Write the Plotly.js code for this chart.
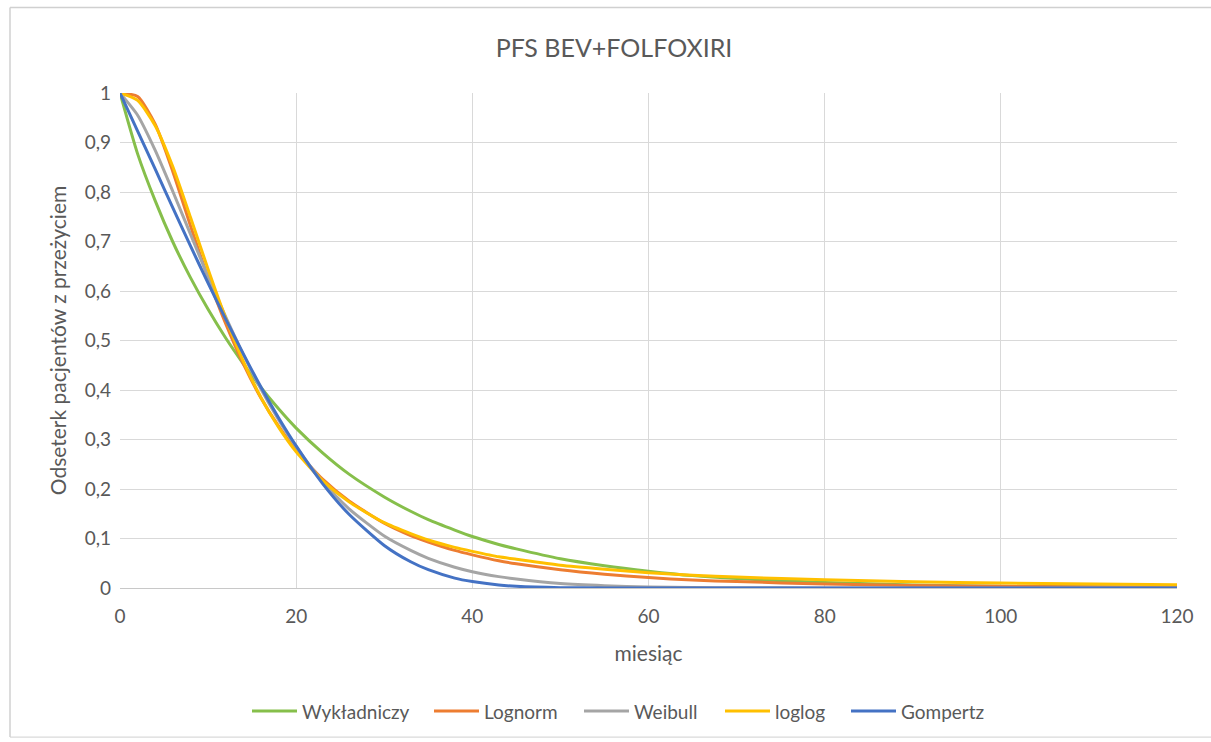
<!DOCTYPE html>
<html>
<head>
<meta charset="utf-8">
<script src="https://cdn.plot.ly/plotly-3.0.1.min.js"></script>
<style>
  html, body { margin: 0; padding: 0; background: #ffffff; }
  #chart { width: 1211px; height: 742px; }
</style>
</head>
<body>
<div id="chart"></div>
<script>
// Months since start of treatment
const months = [0, 2, 4, 6, 8, 10, 12, 14, 16, 18, 20, 23, 26, 30, 33, 35, 38, 40, 43, 45, 50, 55, 60, 65, 70, 80, 90, 100, 120];

// Progression-free survival curves for each fitted distribution
const wykladniczy = [1, 0.877, 0.782, 0.699, 0.627, 0.563, 0.505, 0.453, 0.405, 0.362, 0.323, 0.273, 0.230, 0.184, 0.155, 0.138, 0.117, 0.104, 0.088, 0.079, 0.059, 0.045, 0.034, 0.025, 0.019, 0.011, 0.0062, 0.0035, 0.0011];
const lognorm     = [1, 0.993, 0.937, 0.841, 0.732, 0.627, 0.534, 0.453, 0.384, 0.327, 0.278, 0.220, 0.176, 0.131, 0.106, 0.093, 0.076, 0.067, 0.055, 0.049, 0.037, 0.028, 0.021, 0.016, 0.013, 0.008, 0.0051, 0.0034, 0.0016];
const weibull     = [1, 0.955, 0.884, 0.801, 0.715, 0.629, 0.548, 0.472, 0.402, 0.340, 0.285, 0.215, 0.160, 0.105, 0.076, 0.060, 0.042, 0.033, 0.023, 0.018, 0.009, 0.0046, 0.0022, 0.001, 0.0005, 0.0001, 0, 0, 0];
const loglog      = [1, 0.985, 0.934, 0.851, 0.749, 0.644, 0.545, 0.458, 0.385, 0.325, 0.275, 0.217, 0.174, 0.132, 0.110, 0.097, 0.082, 0.074, 0.063, 0.058, 0.046, 0.038, 0.031, 0.026, 0.022, 0.0165, 0.0127, 0.010, 0.0067];
const gompertz    = [1, 0.923, 0.846, 0.768, 0.691, 0.616, 0.543, 0.473, 0.406, 0.344, 0.287, 0.211, 0.149, 0.086, 0.053, 0.037, 0.020, 0.013, 0.006, 0.0034, 0.0007, 0.0001, 0, 0, 0, 0, 0, 0, 0];

const seriesNames  = ['Wykładniczy', 'Lognorm', 'Weibull', 'loglog', 'Gompertz'];
const seriesValues = [wykladniczy, lognorm, weibull, loglog, gompertz];
const seriesColors = ['#86bf4b', '#ed7d31', '#a5a5a5', '#ffc000', '#4472c4'];

const FONT = 'Lato, "Open Sans", sans-serif';
const GREY_TEXT = '#595959';

// Plot area spans 120..1177 px horizontally and 93..591 px vertically
const L = 120, R = 34, T = 93, B = 151;
const plotW = 1211 - L - R, plotH = 742 - T - B;
const px = v => (v - L) / plotW;
const py = v => (742 - B - v) / plotH;

// Left edge (px) of each legend entry along the bottom row
const legendStarts = [247, 429, 579, 720, 846];
const legendIds = ['legend', 'legend2', 'legend3', 'legend4', 'legend5'];

const traces = seriesNames.map((name, i) => ({
  type: 'scatter',
  mode: 'lines',
  name: name,
  x: months,
  y: seriesValues[i],
  legend: legendIds[i],
  line: { color: seriesColors[i], width: 3, shape: 'spline', smoothing: 0.6 },
  hoverinfo: 'x+y+name'
}));

const layout = {
  width: 1211,
  height: 742,
  margin: { l: L, r: R, t: T, b: B, pad: 0 },
  paper_bgcolor: '#ffffff',
  plot_bgcolor: '#ffffff',
  separators: ', ',
  font: { family: FONT, color: GREY_TEXT, size: 19 },
  title: {
    text: 'PFS BEV+FOLFOXIRI',
    font: { family: FONT, size: 25, color: GREY_TEXT },
    x: 614 / 1211, xanchor: 'center',
    y: 1 - 48 / 742, yanchor: 'middle'
  },
  xaxis: {
    range: [0, 120],
    dtick: 20,
    tick0: 0,
    showgrid: true,
    gridcolor: '#d9d9d9',
    gridwidth: 1,
    zeroline: false,
    showline: true,
    linecolor: '#c8c8c8',
    linewidth: 1,
    ticks: '',
    ticklabelstandoff: 11,
    tickfont: { family: FONT, size: 19, color: GREY_TEXT },
    title: { text: 'miesiąc', font: { family: FONT, size: 21, color: GREY_TEXT }, standoff: 20 },
    fixedrange: true
  },
  yaxis: {
    range: [0, 1],
    dtick: 0.1,
    tick0: 0,
    showgrid: true,
    gridcolor: '#d9d9d9',
    gridwidth: 1,
    zeroline: false,
    showline: false,
    ticks: '',
    ticklabelstandoff: 8,
    tickfont: { family: FONT, size: 19, color: GREY_TEXT },
    title: { text: 'Odseterk pacjentów z przeżyciem', font: { family: FONT, size: 21, color: GREY_TEXT }, standoff: 12 },
    fixedrange: true
  },
  showlegend: true,
  shapes: [
    // chart frame: top, left and bottom edges
    { type: 'line', xref: 'paper', yref: 'paper', x0: px(10), x1: px(1211), y0: py(7), y1: py(7), line: { color: '#d0d0d0', width: 1.5 } },
    { type: 'line', xref: 'paper', yref: 'paper', x0: px(10), x1: px(10), y0: py(7), y1: py(741), line: { color: '#d0d0d0', width: 1.5 } },
    { type: 'line', xref: 'paper', yref: 'paper', x0: px(10), x1: px(1211), y0: py(741), y1: py(741), line: { color: '#d0d0d0', width: 1 } }
  ]
};

legendIds.forEach((id, i) => {
  layout[id] = {
    orientation: 'h',
    x: px(legendStarts[i]), xanchor: 'left',
    y: py(715), yanchor: 'middle',
    itemwidth: 45,
    font: { family: FONT, size: 19, color: GREY_TEXT },
    bgcolor: 'rgba(0,0,0,0)',
    borderwidth: 0
  };
});

Plotly.newPlot('chart', traces, layout, { displayModeBar: false, staticPlot: true });
</script>
</body>
</html>
